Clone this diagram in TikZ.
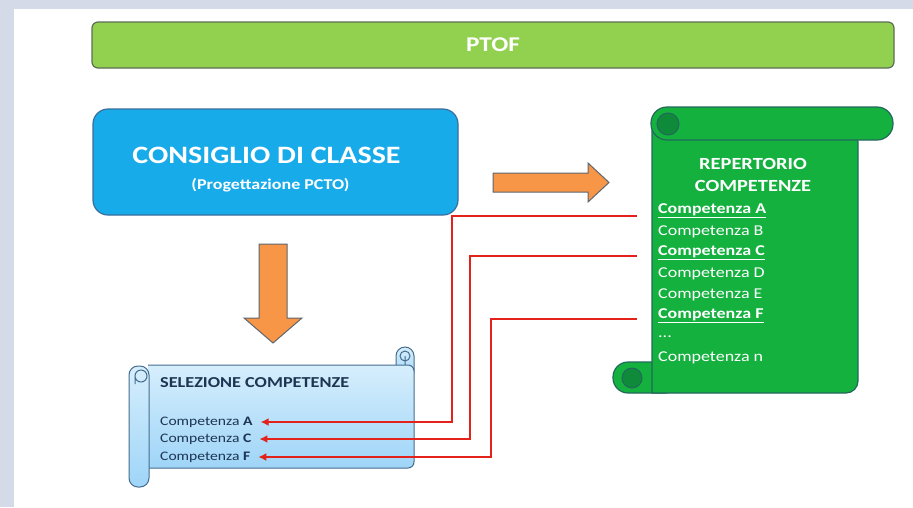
\documentclass[tikz,border=0pt]{standalone}
\usepackage{fontspec}
\setmainfont[FakeStretch=1.2]{Carlito}
\usepackage{tikz}
\usetikzlibrary{calc,positioning,arrows.meta}

\definecolor{framebg}{HTML}{D4DAE7}
\definecolor{ptofgreen}{HTML}{92D050}
\definecolor{ptofedge}{HTML}{5C6E55}
\definecolor{cdcblue}{HTML}{18ABE9}
\definecolor{cdcedge}{HTML}{3A6E9C}
\definecolor{arrorange}{HTML}{F79646}
\definecolor{arredge}{HTML}{5E6670}
\definecolor{repgreen}{HTML}{14B13F}
\definecolor{repdark}{HTML}{0F8A3A}
\definecolor{repedge}{HTML}{22695C}
\definecolor{seltop}{HTML}{D6EEFC}
\definecolor{selbot}{HTML}{9FD5F8}
\definecolor{seledge}{HTML}{456C8E}
\definecolor{seltext}{HTML}{1D3552}
\definecolor{linkred}{HTML}{E2221B}

\tikzset{
  bar/.style={draw=ptofedge,fill=ptofgreen,rounded corners=6pt,line width=1.2pt},
  cdc/.style={draw=cdcedge,fill=cdcblue,rounded corners=15pt,line width=1.2pt},
  blockarrow/.style={draw=arredge,fill=arrorange,line width=1pt,line join=miter},
  repscroll/.style={draw=repedge,fill=repgreen,line width=1.2pt},
  selscroll/.style={draw=seledge,top color=seltop,bottom color=selbot,line width=1pt},
  repitem/.style={anchor=west,inner sep=0pt,text=white,font=\fontsize{15}{17}\selectfont},
  selitem/.style={anchor=west,inner sep=0pt,text=seltext,font=\fontsize{13}{15}\selectfont},
  link/.style={draw=linkred,line width=1.6pt,-{Latex[length=8pt,width=8pt]}}
}

\begin{document}
\begin{tikzpicture}[x=1pt,y=-1pt]
      % frame
      \fill[framebg] (0,0) rectangle (913,507);
      \fill[white] (14,9) rectangle (913,507);
      \useasboundingbox (0,0) rectangle (913,507);

      \node [bar,minimum width=802pt,minimum height=46pt,text=white,
             font=\fontsize{21}{24}\selectfont\bfseries] (ptof) at (493,45) {PTOF};

      \node [cdc,minimum width=365pt,minimum height=106pt,text=white,align=center,
             font=\fontsize{15}{26}\selectfont\bfseries] (cdc) at (275.5,162)
        {\rule{0pt}{32pt}{\fontsize{25}{26}\selectfont CONSIGLIO DI CLASSE}\hspace*{18pt}\\
         (Progettazione PCTO)\hspace*{10pt}};

      % orange arrows
      \draw [blockarrow] (493,173) -- (588,173) -- (588,163) -- (609,182.5)
        -- (588,202) -- (588,192) -- (493,192) -- cycle;
      \draw [blockarrow] (259,244) -- (287,244) -- (287,318) -- (302,318)
        -- (273,343) -- (244,318) -- (259,318) -- cycle;

      % green scroll
      \draw [repscroll,rounded corners=15pt] (613,362) rectangle (680,393);
      \draw [repscroll,rounded corners=12pt] (652,130) -- (858,130) -- (858,393) [sharp corners] -- (652,393) -- cycle;
      \draw [repscroll,rounded corners=16pt] (651,107) rectangle (893,140);
      \fill [repdark] (668,124) circle (11pt);
      \draw [repedge,line width=1pt] (668,124) circle (11pt);
      \fill [repdark] (632,378) circle (10pt);
      \draw [repedge,line width=1pt] (632,378) circle (10pt);

      \node [text=white,align=center,font=\fontsize{17}{22}\selectfont\bfseries] (rep) at (753,175)
        {REPERTORIO\\COMPETENZE};
      \node [repitem] (repA) at (658,211) {\bfseries\underline{Competenza A}};
      \node [repitem] (repB) at (658,232) {Competenza B};
      \node [repitem] (repC) at (658,253) {\bfseries\underline{Competenza C}};
      \node [repitem] (repD) at (658,274) {Competenza D};
      \node [repitem] (repE) at (658,295) {Competenza E};
      \node [repitem] (repF) at (658,316) {\bfseries\underline{Competenza F}};
      \node [repitem] (repdots) at (658,337) {...};
      \node [repitem] (repn) at (658,358) {Competenza n};

      % blue scroll
      \draw [selscroll,rounded corners=9pt] (396,347) rectangle (414,380);
      \draw [seledge,line width=1pt] (405,356) circle (5pt) (405,356) -- (405,365);
      \draw [selscroll,rounded corners=6pt] (148,365) -- (414,365) -- (414,468) -- (148,468);
      \draw [selscroll,rounded corners=9pt] (129,366) rectangle (149,487);
      \draw [seledge,line width=1pt] (141,376) circle (6pt) (135,376) -- (135,384);

      \node [selitem,font=\fontsize{15.2}{17}\selectfont\bfseries] (sel) at (160,383) {SELEZIONE COMPETENZE};
      \node [selitem] (selA) at (160,422) {Competenza \textbf{A}};
      \node [selitem] (selC) at (160,439) {Competenza \textbf{C}};
      \node [selitem] (selF) at (160,457) {Competenza \textbf{F}};

      % links
      \draw [link] ([xshift=-21pt,yshift=-5pt]repA.west) -- ++(-185,0) |- ([xshift=8pt]selA.east);
      \draw [link] ([xshift=-21pt,yshift=-3pt]repC.west) -- ++(-167,0) |- ([xshift=8pt]selC.east);
      \draw [link] ([xshift=-21pt,yshift=-3pt]repF.west) -- ++(-146,0) |- ([xshift=8pt]selF.east);
      \end{tikzpicture}
\end{document}
